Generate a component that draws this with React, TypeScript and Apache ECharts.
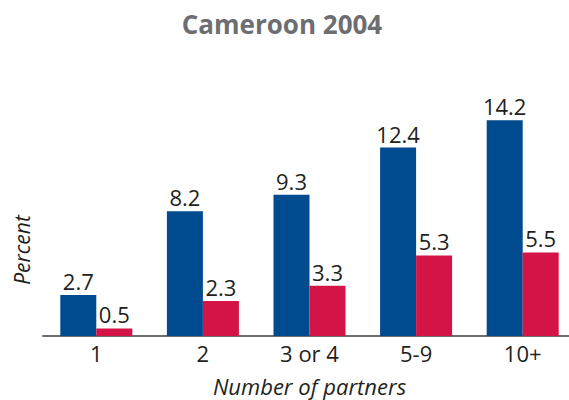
import React, { useEffect, useRef } from "react";
import * as echarts from "echarts";

const categories = ["1", "2", "3 or 4", "5-9", "10+"];
const seriesA = [2.7, 8.2, 9.3, 12.4, 14.2];
const seriesB = [0.5, 2.3, 3.3, 5.3, 5.5];
const titleText = "Cameroon 2004";
const xName = "Number of partners";
const yName = "Percent";

export default function App() {
  const ref = useRef<HTMLDivElement>(null);
  useEffect(() => {
    const chart = echarts.init(ref.current!, null, { renderer: "svg" });
    const font = "'Open Sans', 'Noto Sans', sans-serif";
    const label = {
      show: true,
      position: "top",
      distance: 3,
      fontFamily: font,
      fontSize: 22,
      color: "#231f20",
      formatter: (p: any) => p.value.toFixed(1),
    };
    chart.setOption({
      animation: false,
      title: {
        text: titleText,
        left: 277,
        top: 6,
        textAlign: "center",
        textStyle: { fontFamily: font, fontSize: 26, fontWeight: "bold", color: "#6d6e71" },
      },
      grid: { left: 43, right: 0, top: 108, bottom: 64, outerBoundsMode: "none", containLabel: false },
      xAxis: {
        type: "category",
        data: categories,
        axisLine: { lineStyle: { color: "#6d6e71", width: 2 } },
        axisTick: { show: false },
        axisLabel: { fontFamily: font, fontSize: 22, color: "#231f20", margin: 6 },
        name: xName,
        nameLocation: "middle",
        nameGap: 38,
        nameTextStyle: { fontFamily: font, fontSize: 22, lineHeight: 24, fontStyle: "italic", color: "#231f20" },
      },
      yAxis: {
        type: "value",
        min: 0,
        max: 15,
        show: false,
      },
      graphic: [
        {
          type: "text",
          x: 11,
          y: 250,
          rotation: Math.PI / 2,
          style: {
            text: yName,
            font: `italic 21px ${font}`,
            fill: "#231f20",
            textAlign: "center",
            textVerticalAlign: "top",
          },
        },
      ],
      series: [
        {
          type: "bar",
          data: seriesA,
          barWidth: 36,
          barGap: "0%",
          itemStyle: { color: "#004a8f" },
          label,
        },
        {
          type: "bar",
          data: seriesB,
          barWidth: 36,
          barGap: "0%",
          itemStyle: { color: "#d41447" },
          label,
        },
      ],
    });
    return () => chart.dispose();
  }, []);
  return (
    <div
      style={{ position: "absolute", left: 0, top: 0, width: 569, height: 400, overflow: "hidden", background: "#fff" }}
    >
      <div ref={ref} style={{ width: 576, height: 400 }} />
    </div>
  );
}
